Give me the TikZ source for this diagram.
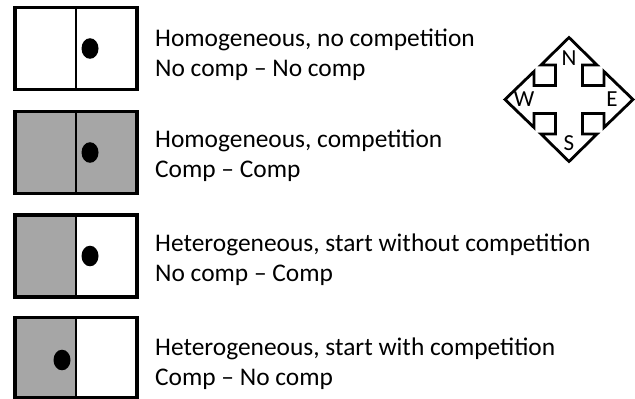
\documentclass[tikz,border=0pt]{standalone}
\usepackage{fontspec}
\setmainfont{Carlito}
\begin{document}
\begin{tikzpicture}[x=1pt,y=-1pt,
  cellbox/.style={draw=black,line width=3.4pt},
  divider/.style={draw=black,line width=2pt},
  shade/.style={fill=gray!70!white},
  dot/.style={fill=black},
  lbl/.style={anchor=base west,inner sep=0pt,font=\fontsize{25.4}{30}\selectfont},
  dirl/.style={inner sep=0pt,font=\fontsize{23}{26}\selectfont},
  compass/.style={draw=black,line width=2.8pt,line join=miter}]
\useasboundingbox (0,0) rectangle (635,399);
% Box 1
\draw[cellbox] (15,7.5) rectangle (137,89.5);
\draw[divider] (76,7.5) -- (76,89.5);
\fill[dot] (90,48.5) ellipse (8.5 and 10.3);
% Box 2
\fill[shade] (15,111.5) rectangle (137,193.5);
\draw[cellbox] (15,111.5) rectangle (137,193.5);
\draw[divider] (76,111.5) -- (76,193.5);
\fill[dot] (90,152.5) ellipse (8.5 and 10.3);
% Box 3
\fill[shade] (15,215) rectangle (76,297);
\draw[cellbox] (15,215) rectangle (137,297);
\draw[divider] (76,215) -- (76,297);
\fill[dot] (90,256) ellipse (8.5 and 10.3);
% Box 4
\fill[shade] (15,317.5) rectangle (76,397.5);
\draw[cellbox] (15,317.5) rectangle (137,397.5);
\draw[divider] (76,317.5) -- (76,397.5);
\fill[dot] (62,360) ellipse (8.5 and 10.3);
% Labels
\node[lbl] (t1a) at (155,46) {Homogeneous, no competition};
\node[lbl] (t1b) at (155,76) {No comp -- No comp};
\node[lbl] (t2a) at (155,147) {Homogeneous, competition};
\node[lbl] (t2b) at (155,177) {Comp -- Comp};
\node[lbl] (t3a) at (155,251) {Heterogeneous, start without competition};
\node[lbl] (t3b) at (155,281) {No comp -- Comp};
\node[lbl] (t4a) at (155,355.5) {Heterogeneous, start with competition};
\node[lbl] (t4b) at (155,385.5) {Comp -- No comp};
% Compass
\begin{scope}[shift={(569,99.5)},y=1pt]
\draw[compass] (0,62) -- (28,34.5) -- (13.5,34.5) -- (13.5,14) -- (35,14) -- (35,28)
  -- (64,0) -- (35,-28) -- (35,-14) -- (13.5,-14) -- (13.5,-34.5) -- (28,-34.5)
  -- (0,-62) -- (-28,-34.5) -- (-13.5,-34.5) -- (-13.5,-14) -- (-35,-14) -- (-35,-28)
  -- (-64,0) -- (-35,28) -- (-35,14) -- (-13.5,14) -- (-13.5,34.5) -- (-28,34.5) -- cycle;
\node[dirl] (cn) at (0,41) {N};
\node[dirl] (cs) at (0,-44) {S};
\node[dirl] (cw) at (-45,0) {W};
\node[dirl] (ce) at (43,0) {E};
\end{scope}
\end{tikzpicture}
\end{document}
